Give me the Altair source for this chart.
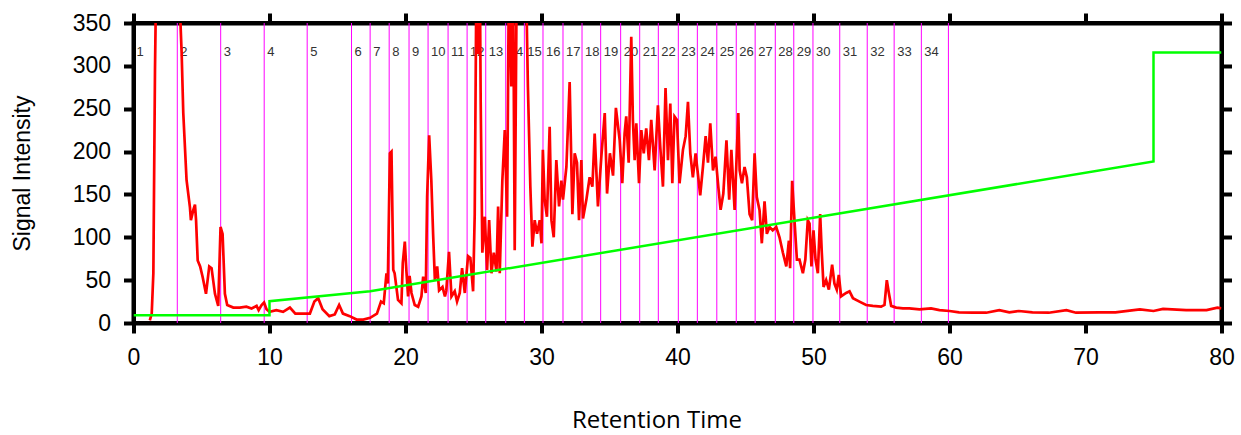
import altair as alt
import pandas as pd

# ---- data ----
red_t = [1.2, 1.34, 1.46, 1.58, 1.65, 2.4, 3.38, 3.54, 3.66, 3.9, 4.15, 4.22, 4.4, 4.52, 4.6, 4.72, 4.9, 5.08, 5.33, 5.57,
         5.74, 5.99, 6.23, 6.4, 6.55, 6.72, 6.89, 7.34, 7.82, 8.3, 8.68, 9.05, 9.2, 9.42, 9.6, 9.78, 10.0, 10.5, 11.0, 11.5,
         11.9, 12.5, 12.97, 13.3, 13.58, 13.9, 14.4, 14.8, 15.12, 15.4, 15.9, 16.4, 16.9, 17.4, 17.9, 18.2, 18.4, 18.6, 18.7, 18.85,
         18.97, 19.1, 19.2, 19.45, 19.7, 19.8, 19.95, 20.07, 20.19, 20.3, 20.44, 20.68, 20.93, 21.17, 21.3, 21.49, 21.59, 21.74, 21.9, 22.03,
         22.16, 22.33, 22.47, 22.72, 22.9, 23.0, 23.2, 23.38, 23.62, 23.79, 23.99, 24.16, 24.36, 24.6, 24.77, 24.97, 25.09, 25.22, 25.36, 25.46,
         25.53, 25.65, 25.83, 26.0, 26.15, 26.32, 26.49, 26.69, 26.81, 26.93, 27.12, 27.3, 27.47, 27.61, 27.78, 27.91, 28.03, 28.2, 28.5, 28.84,
         29.0, 29.18, 29.33, 29.5, 29.67, 29.87, 30.0, 30.1, 30.23, 30.4, 30.6, 30.73, 30.9, 31.09, 31.29, 31.46, 31.58, 31.83, 32.07, 32.27,
         32.44, 32.61, 32.76, 32.93, 33.05, 33.3, 33.54, 33.74, 33.91, 34.15, 34.4, 34.65, 34.82, 35.03, 35.26, 35.47, 35.75, 35.94, 36.11, 36.23,
         36.41, 36.6, 36.72, 36.85, 36.97, 37.17, 37.34, 37.52, 37.7, 37.9, 38.07, 38.32, 38.56, 38.73, 38.93, 39.12, 39.3, 39.47, 39.62, 39.78,
         39.96, 40.15, 40.4, 40.6, 40.77, 40.94, 41.13, 41.33, 41.5, 41.67, 41.87, 42.07, 42.24, 42.41, 42.61, 42.8, 43.0, 43.17, 43.37, 43.6,
         43.8, 43.96, 44.2, 44.47, 44.57, 44.74, 44.93, 45.1, 45.3, 45.49, 45.67, 45.83, 46.03, 46.2, 46.4, 46.57, 46.77, 47.0, 47.26, 47.5,
         47.75, 48.0, 48.19, 48.28, 48.43, 48.6, 48.78, 48.97, 49.22, 49.4, 49.58, 49.71, 49.85, 50.0, 50.15, 50.32, 50.49, 50.61, 50.74, 50.93,
         51.13, 51.37, 51.54, 51.71, 51.86, 52.03, 52.4, 52.65, 52.9, 53.38, 53.87, 54.36, 54.97, 55.22, 55.39, 55.54, 55.71, 56.08, 56.57, 57.05,
         57.79, 58.64, 59.26, 60.0, 60.7, 61.7, 62.7, 63.66, 64.4, 65.1, 66.1, 67.3, 68.6, 69.3, 71.0, 72.2, 74.0, 75.0, 75.7, 77.4,
         78.9, 79.7, 80.0]
red_v = [3, 11, 58, 295, 380, 900, 380, 315, 245, 167, 135, 120, 132, 138, 120, 73, 66, 54, 34, 66,
         64, 34, 20, 112, 104, 34, 21, 18, 18, 19, 17, 20, 15, 21, 24, 16, 13, 15, 13, 18,
         11, 11, 11, 25, 29, 16, 8, 10, 21, 11, 8, 4, 4, 6, 11, 25, 23, 58, 46, 198,
         200, 62, 58, 27, 23, 70, 95, 60, 31, 55, 35, 21, 19, 31, 54, 35, 147, 219, 166, 104,
         50, 66, 38, 42, 31, 38, 83, 31, 37, 25, 35, 64, 35, 78, 76, 37, 127, 420, 314, 420,
         256, 82, 124, 62, 120, 58, 82, 60, 136, 58, 166, 225, 124, 420, 276, 420, 85, 450, 700, 420,
         276, 159, 89, 120, 104, 120, 93, 202, 144, 124, 229, 120, 100, 190, 136, 166, 144, 182, 281, 127,
         198, 187, 120, 190, 122, 144, 170, 159, 221, 136, 194, 245, 151, 198, 172, 251, 213, 163, 221, 241,
         187, 334, 237, 190, 233, 163, 225, 198, 227, 190, 237, 178, 254, 206, 159, 274, 190, 256, 163, 241,
         237, 163, 202, 218, 258, 198, 170, 198, 174, 149, 182, 218, 187, 233, 178, 194, 159, 132, 151, 213,
         144, 202, 132, 245, 178, 163, 182, 170, 127, 120, 198, 147, 132, 93, 142, 104, 112, 108, 112, 100,
         82, 66, 96, 64, 166, 120, 74, 74, 58, 74, 120, 116, 66, 108, 74, 58, 127, 82, 42, 50,
         39, 68, 46, 39, 56, 31, 35, 37, 29, 25, 21, 20, 19, 21, 50, 35, 20, 18, 17, 17,
         16, 17, 15, 14, 12.5, 12, 12, 15, 12.5, 14, 12.5, 12, 15, 12, 12.5, 12.5, 16, 14, 16.5, 15,
         15, 18, 17]

green_t = [0, 10, 10, 17.4, 75, 75, 80]
green_v = [9, 9, 25.5, 37, 188.5, 315.5, 315.5]

fraction_ends = [3.22, 6.41, 9.61, 12.77, 16.03, 17.40, 18.80, 20.26, 21.66, 23.13, 24.53, 25.90, 27.37, 28.74,
                 30.11, 31.58, 32.98, 34.35, 35.82, 37.22, 38.59, 40.06, 41.46, 42.89, 44.32, 45.71, 47.19, 48.55,
                 49.96, 51.93, 53.95, 55.93, 57.93, 59.92]
fraction_names = [str(i) for i in range(1, 35)]
fraction_starts = [0.0] + fraction_ends[:-1]
label_level = 316

x_ticks = [0, 10, 20, 30, 40, 50, 60, 70, 80]
y_ticks = [0, 50, 100, 150, 200, 250, 300, 350]

# ---- tables ----
red_df = pd.DataFrame({"t": red_t, "v": red_v, "i": range(len(red_t))})
green_df = pd.DataFrame({"t": green_t, "v": green_v, "i": range(len(green_t))})
rules_df = pd.DataFrame({"t": fraction_ends})
labels_df = pd.DataFrame({"t": fraction_starts, "name": fraction_names, "v": [label_level] * len(fraction_names)})

xs = alt.Scale(domain=[0, 80], nice=False, zero=False)
ys = alt.Scale(domain=[0, 350], nice=False, zero=False)

common = dict(tickSize=10, tickWidth=4, tickColor="black", domainColor="black", domainWidth=4,
              grid=False, labelFont="Liberation Sans", labelFontSize=23, labelColor="black")

x_axis = alt.Axis(values=x_ticks, labelPadding=13, labelFlush=False, title="Retention Time",
                  titleFont="Open Sans", titleFontSize=24, titleFontWeight="normal", titleColor="black",
                  titleX=523, titleY=97, titleAlign="center", titleBaseline="middle", **common)
y_axis = alt.Axis(values=y_ticks, labelPadding=13, title="Signal Intensity",
                  titleFont="Liberation Sans", titleFontSize=23, titleFontWeight="normal", titleColor="black",
                  titleX=-111, titleY=150, titleAngle=270, titleAlign="center", titleBaseline="middle", **common)
x_top = alt.Axis(orient="top", values=x_ticks, labels=False, title=None, **common)
y_right = alt.Axis(orient="right", values=y_ticks, labels=False, title=None, **common)

rules = alt.Chart(rules_df).mark_rule(color="#ff00ff", strokeWidth=1).encode(
    x=alt.X("t:Q", scale=xs, axis=x_axis))
labels = alt.Chart(labels_df).mark_text(align="left", baseline="middle", dx=3, fontSize=13,
                                        font="Liberation Sans", color="#333333").encode(
    x=alt.X("t:Q", scale=xs, axis=x_axis), y=alt.Y("v:Q", scale=ys, axis=y_axis), text="name:N")
red = alt.Chart(red_df).mark_line(color="#ff0000", strokeWidth=2.7, clip=True).encode(
    x=alt.X("t:Q", scale=xs, axis=x_axis), y=alt.Y("v:Q", scale=ys, axis=y_axis), order="i:Q")
green = alt.Chart(green_df).mark_line(color="#00ff00", strokeWidth=2.5, clip=True).encode(
    x=alt.X("t:Q", scale=xs, axis=x_axis), y=alt.Y("v:Q", scale=ys, axis=y_axis), order="i:Q")
mirror = alt.Chart(green_df).mark_line(opacity=0).encode(
    x=alt.X("t:Q", scale=xs, axis=x_top), y=alt.Y("v:Q", scale=ys, axis=y_right), order="i:Q")

base = alt.layer(rules, labels, red, green)
chart = alt.layer(base, mirror).resolve_axis(x="independent", y="independent").properties(
    width=1088, height=300,
    autosize=alt.AutoSizeParams(type="none"),
    padding={"left": 133.5, "top": 23, "right": 19.5, "bottom": 112},
    background="white",
).configure_view(stroke="black", strokeWidth=4)

chart.save("out.html", embed_options={"renderer": "svg", "actions": False})
